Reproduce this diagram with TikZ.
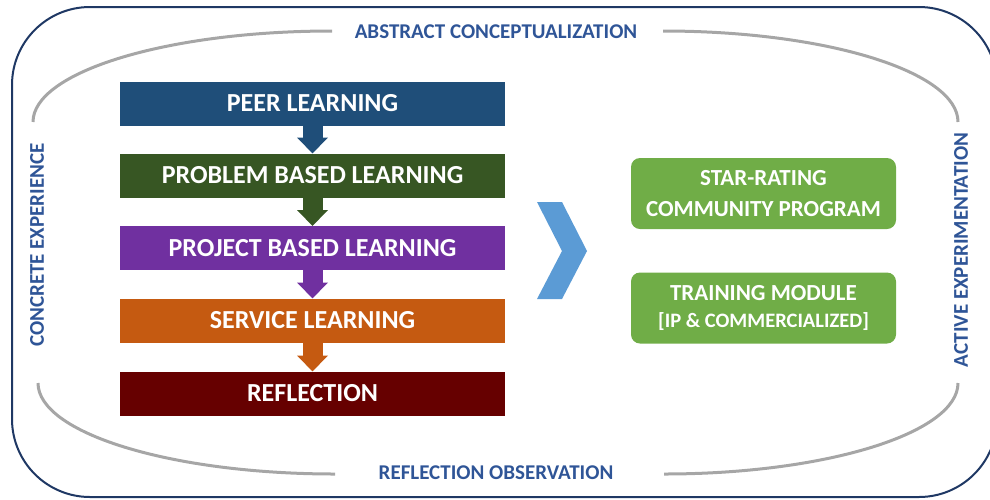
\documentclass[tikz,border=0pt]{standalone}
\usepackage{fontspec}
\setmainfont{Carlito}
\usetikzlibrary{arrows.meta}
\definecolor{frameblue}{HTML}{1F3864}
\definecolor{labelblue}{HTML}{2F5597}
\definecolor{arcgray}{HTML}{A6A6A6}
\definecolor{peerc}{HTML}{1F4E79}
\definecolor{problemc}{HTML}{375623}
\definecolor{projectc}{HTML}{7030A0}
\definecolor{servicec}{HTML}{C55A11}
\definecolor{reflectc}{HTML}{660000}
\definecolor{chevronc}{HTML}{5B9BD5}
\definecolor{outcomec}{HTML}{70AD47}
\tikzset{
  stagebox/.style={fill=#1, text=white, minimum width=385pt, minimum height=44pt,
    inner sep=0pt, outer sep=0pt, font=\fontsize{26}{30}\selectfont\bfseries},
  outcomebox/.style={fill=outcomec, text=white, rounded corners=9pt, minimum width=265pt,
    minimum height=71pt, inner sep=0pt, outer sep=0pt, align=center},
  cyclelabel/.style={text=labelblue, font=\fontsize{21}{25}\selectfont\bfseries, inner sep=0pt},
  cyclearc/.style={draw=arcgray, line width=3pt},
  flowarrow/.style={draw=#1, line width=20pt, -{Triangle[width=30pt,length=16pt]}}
}
\begin{document}
\begin{tikzpicture}[x=1pt,y=-1pt]
\useasboundingbox (0,0) rectangle (990,499);
% outer frame
\draw[frameblue, line width=2pt, rounded corners=78pt] (12,7) rectangle (997,497);

% learning cycle arcs
\draw[cyclearc] (33,122) .. controls (33,72) and (167,31) .. (332,31);
\draw[cyclearc] (663,31) .. controls (827,31) and (958,72) .. (958,122);
\draw[cyclearc] (38,383) .. controls (38,433) and (171,474) .. (335,474);
\draw[cyclearc] (664,474) .. controls (826,474) and (958,433) .. (958,383);

% cycle labels
\node[cyclelabel] (abstract) at (496,32) {ABSTRACT CONCEPTUALIZATION};
\node[cyclelabel] (observe) at (496,473) {REFLECTION OBSERVATION};
\node[cyclelabel, rotate=90] (concrete) at (37,245) {CONCRETE EXPERIENCE};
\node[cyclelabel, rotate=90] (active) at (961,250) {ACTIVE EXPERIMENTATION};

% learning stages
\node[stagebox=peerc] (peer) at (312.5,103.5) {PEER LEARNING};
\node[stagebox=problemc] (problem) at (312.5,175.5) {PROBLEM BASED LEARNING};
\node[stagebox=projectc] (project) at (312.5,248) {PROJECT BASED LEARNING};
\node[stagebox=servicec] (service) at (312.5,320.5) {SERVICE LEARNING};
\node[stagebox=reflectc] (reflect) at (312.5,393.5) {REFLECTION};

\draw[flowarrow=peerc] (peer.south) -- (problem.north);
\draw[flowarrow=problemc] (problem.south) -- (project.north);
\draw[flowarrow=projectc] (project.south) -- (service.north);
\draw[flowarrow=servicec] (service.south) -- (reflect.north);

% chevron
\fill[chevronc] (537,202) -- (562,202) -- (587,251) -- (562,299) -- (537,299) -- (562,251) -- cycle;

% outcomes
\node[outcomebox, font=\fontsize{23}{31}\selectfont\bfseries] (star) at (763.5,193.5)
  {STAR-RATING\\COMMUNITY PROGRAM};
\node[outcomebox, font=\fontsize{23}{27}\selectfont\bfseries] (training) at (763.5,308)
  {TRAINING MODULE\\{\fontsize{20.5}{27}\selectfont [IP \& COMMERCIALIZED]}};
\end{tikzpicture}
\end{document}
